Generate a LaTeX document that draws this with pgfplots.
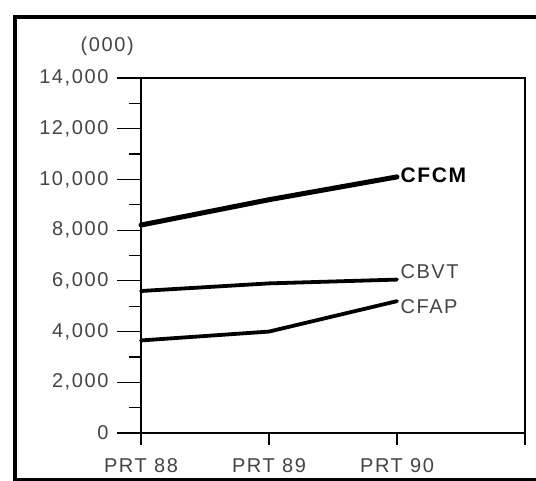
\documentclass[border=0pt]{standalone}
\usepackage{fontspec}
\setmainfont{Liberation Sans}[LetterSpace=8]
\usepackage{pgfplots}
\pgfplotsset{compat=1.18}
\definecolor{txt}{HTML}{444444}
\begin{document}
\begin{tikzpicture}[x=1pt,y=1pt]
\useasboundingbox (0,0) rectangle (536,480);
\begin{scope}
\clip (0,0) rectangle (536,480);
\draw[line width=4pt, black] (15,0.5) rectangle (560,463);
\end{scope}
\begin{axis}[
  at={(141pt,47pt)}, anchor=south west,
  scale only axis, width=384pt, height=355pt,
  xmin=0, xmax=3, ymin=0, ymax=14000,
  xtick={0,1,2,3}, xticklabels={PRT 88,PRT 89,PRT 90,{}},
  ytick={0,2000,...,14000},
  minor y tick num=1,
  xtick pos=bottom, ytick pos=left,
  scaled y ticks=false,
  tick align=outside,
  major tick length=24pt, minor tick length=12pt,
  xtick style={/pgfplots/major tick length=12pt},
  tick style={black, line width=1.2pt},
  axis line style={black, line width=1.3pt},
  /pgf/number format/assume math mode=true,
  /pgf/number format/1000 sep={,},
  ticklabel style={font=\fontsize{20}{23}\selectfont, text=txt},
  yticklabel style={xshift=-5pt},
  xticklabel style={yshift=2pt},
  clip=false,
]
\addplot[black, line width=5pt, line cap=round] coordinates {(0,8200) (1,9200) (2,10100)};
\addplot[black, line width=3.8pt, line cap=round] coordinates {(0,5600) (1,5900) (2,6050)};
\addplot[black, line width=3.8pt, line cap=round] coordinates {(0,3650) (1,4000) (2,5200)};
\node[anchor=west, font=\fontsize{21}{23}\selectfont\bfseries] at (axis cs:2,10150) {CFCM};
\node[anchor=west, font=\fontsize{20}{23}\selectfont, text=txt] at (axis cs:2,6350) {CBVT};
\node[anchor=west, font=\fontsize{20}{23}\selectfont, text=txt] at (axis cs:2,5000) {CFAP};
\node[font=\fontsize{20}{23}\selectfont, text=txt] at (rel axis cs:-0.088,1.09) {(000)};
\end{axis}
\end{tikzpicture}
\end{document}
